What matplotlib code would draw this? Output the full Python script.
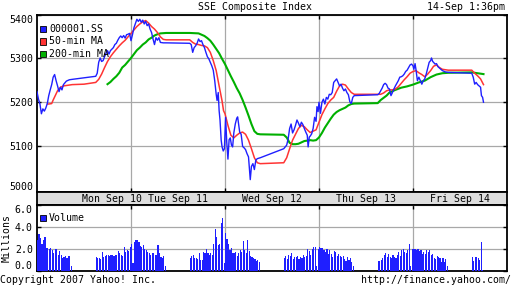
import matplotlib
matplotlib.use("Agg")
import matplotlib.pyplot as plt
from matplotlib.patches import Rectangle
from matplotlib.ticker import NullLocator, FixedLocator
import numpy as np

# ---------------- data (x = 5-minute bar index on the trading-time axis) ----------------
day_bounds = [64, 128, 192, 256]
day_labels = ["Mon Sep 10", "Tue Sep 11", "Wed Sep 12", "Thu Sep 13", "Fri Sep 14"]
day_label_pos = [51, 96, 160, 224, 288]

price_t = [0, 1, 2, 3, 4, 5, 6, 7, 8, 9, 10, 11, 12, 13, 14, 15, 16, 17, 18, 20, 22, 24,
           40, 41, 42, 43, 44, 45, 46, 47, 48, 49, 50, 52, 53, 54, 55, 56, 57, 58, 59, 60, 61, 62, 63,
           64, 65, 66, 67, 68, 69, 70, 71, 72, 73, 74, 75, 76, 77, 78, 79, 80, 81, 82, 83, 84, 86, 88,
           104, 105, 106, 107, 108, 109, 110, 111, 112, 113, 114, 115, 116, 117, 118, 119, 120, 121, 122,
           122.6, 123.4, 124, 124.6, 125.4, 126, 126.8, 127.6, 128.4, 129.2, 130, 130.8, 131.6, 132.4,
           133.2, 134, 135, 136, 136.6, 137.4, 138, 139, 140, 141, 142, 143, 144, 145.2, 146, 147, 148,
           149, 150, 152,
           168, 169, 170, 171, 172, 173, 174, 175, 176, 177, 178, 179, 180, 181, 182, 183, 184, 184.6,
           185.4, 186, 187, 188, 189, 190, 190.6, 191.4, 192, 193, 194, 195, 196, 197, 198, 199, 200,
           201, 202, 203, 204, 205, 206, 207, 208, 209, 210, 211, 212, 213, 214, 215, 216,
           232, 233, 234, 235, 236, 237, 238, 239, 240, 241, 242, 243, 244, 245, 246, 247, 248, 249,
           250, 251, 252, 253, 254, 255, 256, 256.6, 257.4, 258, 259, 260, 261, 262, 263, 264, 265,
           266, 267, 268, 268.6, 269.4, 270, 271, 272, 273, 274, 275, 276, 278, 280,
           296, 297, 298, 299, 300, 301, 302, 302.6, 303.4, 304]
price_v = [5223, 5206, 5195, 5173, 5184, 5179, 5186, 5196, 5214, 5227, 5239, 5256, 5262, 5248, 5236,
           5223, 5233, 5227, 5239, 5247, 5250, 5251,
           5258, 5265, 5290, 5300, 5292, 5294, 5303, 5311, 5317, 5309, 5317, 5324, 5331, 5334, 5341,
           5347, 5351, 5347, 5352, 5346, 5354, 5355, 5357,
           5340, 5354, 5370, 5380, 5390, 5385, 5390, 5383, 5388, 5379, 5385, 5375, 5379, 5367, 5359,
           5344, 5331, 5347, 5341, 5347, 5336, 5335, 5335,
           5334, 5331, 5313, 5324, 5328, 5334, 5344, 5338, 5340, 5331, 5324, 5313, 5303, 5298, 5290,
           5282, 5272, 5248, 5217,
           5203, 5221, 5180, 5159, 5114, 5099, 5090, 5095, 5165, 5109, 5072, 5115, 5119, 5103,
           5099, 5130, 5150, 5163, 5166, 5147, 5132, 5127, 5100, 5097, 5093, 5084, 5077, 5027, 5056,
           5062, 5049, 5070, 5073, 5075,
           5095, 5099, 5103, 5117, 5140, 5150, 5130, 5137, 5147, 5159, 5152, 5144, 5154, 5149, 5140,
           5132, 5125, 5099, 5121, 5123, 5128, 5140, 5165, 5156, 5189, 5178, 5199, 5174, 5199, 5206,
           5195, 5210, 5206, 5217, 5216, 5221, 5244, 5248, 5252, 5244, 5236, 5240, 5231, 5225, 5229,
           5221, 5216, 5200, 5196, 5210, 5214,
           5216, 5219, 5225, 5231, 5239, 5242, 5239, 5231, 5229, 5214, 5221, 5229, 5236, 5242, 5248,
           5256, 5257, 5259, 5263, 5269, 5272, 5278, 5284, 5286, 5282, 5274, 5287, 5274, 5248, 5256,
           5248, 5240, 5248, 5252, 5263, 5277, 5290, 5294, 5300, 5292, 5290, 5286, 5287, 5280, 5277,
           5274, 5271, 5268, 5267,
           5265, 5256, 5240, 5244, 5239, 5236, 5233, 5214, 5210, 5199]

ma50_t = [7.2, 8, 10, 11, 12, 14, 16, 18, 20, 22, 24, 32, 40, 42, 44, 46, 48, 50, 52, 54, 56, 58, 60,
          62, 64, 66, 68, 70, 72, 74, 76, 78, 80, 82, 84, 86, 88, 104, 106, 108, 110, 112, 114, 116,
          118, 120, 122, 124, 126, 127, 128, 130, 132, 134, 136, 138, 140, 142, 144, 146, 148, 150,
          152, 168, 170, 172, 174, 176, 178, 180, 182, 184, 186, 188, 190, 192, 194, 196, 198, 200,
          202, 204, 206, 208, 210, 212, 214, 216, 232, 234, 236, 238, 240, 242, 244, 246, 248, 250,
          252, 254, 256, 258, 260, 262, 264, 266, 268, 270, 272, 274, 276, 278, 280, 296, 298, 300,
          302, 304]
ma50_v = [5195, 5195, 5196, 5204, 5211, 5225, 5233, 5236, 5237, 5238, 5239, 5240, 5244, 5251, 5263,
          5278, 5292, 5303, 5312, 5320, 5328, 5335, 5341, 5349, 5357, 5365, 5373, 5379, 5384, 5387,
          5381, 5373, 5367, 5359, 5349, 5343, 5342, 5342, 5336, 5332, 5331, 5329, 5328, 5324, 5313,
          5294, 5271, 5236, 5202, 5180, 5173, 5147, 5125, 5119, 5125, 5130, 5132, 5127, 5114, 5095,
          5075, 5064, 5062, 5064, 5075, 5095, 5114, 5127, 5140, 5147, 5144, 5137, 5131, 5134, 5137,
          5154, 5171, 5184, 5196, 5204, 5210, 5224, 5236, 5240, 5238, 5229, 5221, 5217, 5217, 5217,
          5220, 5225, 5227, 5227, 5229, 5234, 5242, 5250, 5257, 5265, 5269, 5271, 5266, 5262, 5257,
          5263, 5271, 5281, 5284, 5278, 5274, 5273, 5272, 5272, 5265, 5259, 5252, 5239]

ma200_t = [48, 50, 52, 54, 56, 58, 60, 62, 64, 66, 68, 70, 72, 74, 76, 78, 80, 82, 84, 88, 104, 110,
           112, 114, 116, 118, 120, 122, 124, 126, 128, 130, 132, 134, 136, 138, 140, 142, 144, 146,
           148, 150, 152, 168, 170, 172, 174, 176, 178, 180, 182, 184, 186, 188, 190, 192, 194, 196,
           198, 200, 202, 204, 206, 208, 210, 212, 214, 216, 232, 234, 236, 238, 240, 244, 248, 252,
           256, 260, 264, 268, 272, 276, 280, 296, 300, 304]
ma200_v = [5240, 5245, 5252, 5258, 5266, 5278, 5284, 5292, 5300, 5309, 5318, 5324, 5331, 5336, 5343,
           5347, 5352, 5355, 5357, 5358, 5358, 5357, 5354, 5351, 5346, 5340, 5331, 5321, 5311, 5298,
           5286, 5272, 5258, 5245, 5231, 5219, 5204, 5187, 5169, 5150, 5134, 5128, 5127, 5126, 5120,
           5108, 5105, 5105, 5106, 5109, 5112, 5113, 5114, 5113, 5114, 5120, 5130, 5142, 5152, 5162,
           5171, 5177, 5181, 5184, 5187, 5192, 5195, 5196, 5197, 5204, 5209, 5214, 5221, 5227, 5232,
           5235, 5239, 5244, 5248, 5256, 5262, 5265, 5266, 5267, 5265, 5263]

# volume (millions) per 5-minute bar, one list per trading session
session_start = [0, 40, 104, 168, 232, 296]
vol_s1 = [2.8, 3.4, 3.0, 2.5, 2.8, 3.1, 2.1, 2.1, 2.0, 2.1, 1.9, 1.6, 2.0, 2.0, 1.5, 1.8, 1.5, 1.2,
          1.3, 1.4, 1.2, 1.4, 1.4, 0.5]
vol_s2 = [1.3, 1.2, 1.2, 1.1, 1.7, 1.3, 1.4, 1.5, 1.5, 1.4, 1.5, 1.5, 1.4, 1.5, 1.5, 1.8, 1.6, 1.5,
          1.4, 2.2, 1.7, 1.9, 1.8, 2.2, 2.5, 0.7, 2.6, 2.8, 2.8, 2.6, 2.3, 2.2, 2.4, 2.0, 1.9, 1.7,
          1.6, 1.5, 1.6, 1.6, 1.5, 1.5, 2.4, 1.6, 1.3, 1.2, 1.4, 0.5]
vol_s3 = [1.15, 1.4, 1.5, 1.2, 1.2, 1.1, 1.6, 1.0, 1.0, 1.7, 1.6, 2.0, 1.6, 1.5, 1.6, 1.5, 2.5, 3.8,
          3.1, 2.4, 2.45, 4.4, 4.8, 0.7, 3.5, 2.9, 2.5, 1.9, 2.1, 1.6, 1.6, 1.7, 1.4, 1.6, 1.9, 1.7,
          2.7, 1.9, 1.6, 2.85, 1.8, 1.4, 1.3, 1.2, 1.1, 0.9, 1.0, 0.8]
vol_s4 = [1.15, 1.4, 1.1, 1.45, 1.4, 1.6, 1.1, 1.25, 1.3, 1.4, 1.1, 1.25, 1.2, 1.45, 1.25, 1.4, 2.0,
          1.8, 1.45, 2.0, 2.2, 2.2, 0.45, 2.0, 2.2, 2.1, 2.05, 1.95, 1.7, 2.0, 1.55, 1.9, 1.55, 1.3,
          1.85, 1.7, 1.4, 1.55, 1.4, 1.3, 1.4, 1.05, 0.95, 1.25, 1.0, 1.2, 0.8, 0.45]
vol_s5 = [0.95, 0.95, 1.0, 1.15, 1.45, 1.6, 1.25, 1.55, 1.25, 1.15, 1.45, 1.25, 1.15, 1.45, 1.75, 1.4,
          1.9, 2.0, 1.75, 1.6, 1.9, 2.5, 0.45, 2.0, 2.0, 2.0, 1.95, 2.0, 1.85, 1.95, 1.55, 1.75, 1.55,
          1.95, 1.7, 1.95, 1.5, 1.55, 1.15, 1.05, 1.4, 1.25, 1.15, 0.85, 1.15, 0.8, 1.1, 0.45]
vol_s6 = [1.25, 0.95, 1.3, 1.25, 1.15, 1.0, 2.6, 0.1]
vol_sessions = [vol_s1, vol_s2, vol_s3, vol_s4, vol_s5, vol_s6]

price_ticks = [5000, 5100, 5200, 5300, 5400]
vol_ticks = [0, 2, 4, 6]
vol_tick_labels = ["0.0", "2.0", "4.0", "6.0"]

# ---------------- style ----------------
FONT = "DejaVu Sans Mono"
FS = 7.1
plt.rcParams["font.family"] = FONT
BLUE = "#1f1fff"
RED = "#ff3333"
GREEN = "#00b000"
GRID = "#a8a8a8"

W, H = 512, 288
fig = plt.figure(figsize=(W / 100, H / 100), dpi=100)
fig.patch.set_facecolor("white")


def rect(l, t, r, b):
    return [l / W, 1 - b / H, (r - l) / W, (b - t) / H]


def fx(x):
    return x / W


def fy(y):
    return 1 - y / H


ax = fig.add_axes(rect(37, 15, 507, 192))
band = fig.add_axes(rect(37, 192, 507, 205))
axv = fig.add_axes(rect(37, 205, 507, 271))

for a in (ax, band, axv):
    for s in a.spines.values():
        s.set_linewidth(1.3)
        s.set_color("black")
    a.set_xlim(0, 320)

# main price panel
ax.plot(ma200_t, ma200_v, color=GREEN, lw=1.5, zorder=3)
ax.plot(ma50_t, ma50_v, color=RED, lw=1.1, zorder=4)
ax.plot(price_t, price_v, color=BLUE, lw=1.0, zorder=5)
ax.set_yscale("log")
ax.set_ylim(5000, 5400)
ax.yaxis.set_major_locator(FixedLocator(price_ticks))
ax.yaxis.set_minor_locator(NullLocator())
ax.set_yticklabels([str(v) for v in price_ticks])
ax.xaxis.set_major_locator(FixedLocator(day_bounds))
ax.grid(True, color=GRID, lw=0.9, zorder=1)
ax.tick_params(direction="in", length=3, width=1, top=True, right=True,
               labelbottom=False, labelsize=FS, pad=3)
labs = ax.get_yticklabels()
labs[0].set_va("bottom")
labs[-1].set_va("top")

legend_items = [("000001.SS", BLUE), ("50-min MA", RED), ("200-min MA", GREEN)]
for i, (name, c) in enumerate(legend_items):
    yc = 29 + 12.5 * i
    fig.add_artist(Rectangle((fx(40), fy(yc + 3)), 6 / W, 6 / H, transform=fig.transFigure,
                             facecolor=c, edgecolor="black", lw=0.6, zorder=10))
    fig.text(fx(49), fy(yc), name, fontsize=FS, va="center", ha="left", zorder=10)

# date band
band.set_facecolor("#dedede")
band.set_xticks([])
band.set_yticks([])
band.set_ylim(0, 1)
for p, lab in zip(day_label_pos, day_labels):
    band.text(p, 0.45, lab, ha="center", va="center", fontsize=FS)

# volume panel
for start, vols in zip(session_start, vol_sessions):
    xs = np.arange(len(vols)) + start
    axv.bar(xs, vols, width=0.8, align="edge", color=BLUE, linewidth=0, zorder=3)
axv.set_ylim(0, 6)
axv.yaxis.set_major_locator(FixedLocator(vol_ticks))
axv.set_yticklabels(vol_tick_labels)
axv.xaxis.set_major_locator(FixedLocator(day_bounds))
axv.grid(True, color=GRID, lw=0.9, zorder=1)
axv.tick_params(direction="in", length=3, width=1, top=True, right=True,
                labelbottom=False, labelsize=FS, pad=3)
vl = axv.get_yticklabels()
vl[0].set_va("bottom")
vl[-1].set_va("top")
axv.set_ylabel("Millions", fontsize=FS, labelpad=2)
fig.add_artist(Rectangle((fx(40), fy(221)), 6 / W, 6 / H, transform=fig.transFigure,
                         facecolor=BLUE, edgecolor="black", lw=0.6, zorder=10))
fig.text(fx(49), fy(218), "Volume", fontsize=FS, va="center", ha="left", zorder=10)

# header / footer
fig.text(fx(255), fy(7), "SSE Composite Index", fontsize=FS, ha="center", va="center")
fig.text(fx(505), fy(7), "14-Sep 1:36pm", fontsize=FS, ha="right", va="center")
fig.text(fx(0), fy(280), "Copyright 2007 Yahoo! Inc.", fontsize=FS, ha="left", va="center")
fig.text(fx(511), fy(280), "http://finance.yahoo.com/", fontsize=FS, ha="right", va="center")

fig.savefig("out.png", dpi=100)
